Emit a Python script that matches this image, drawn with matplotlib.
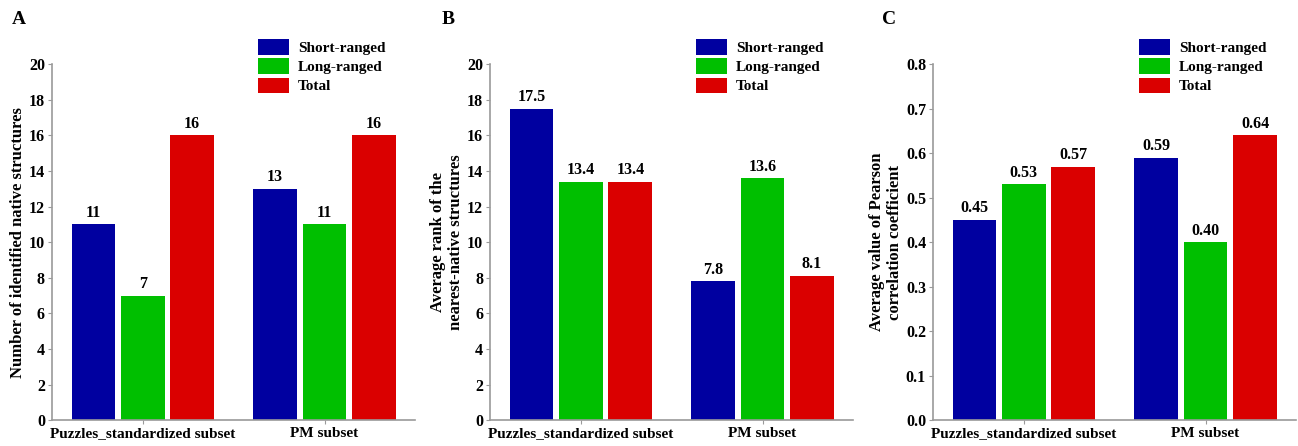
import matplotlib.pyplot as plt
import numpy as np
from matplotlib.patches import Patch

plt.rcParams['font.family'] = ['Liberation Serif', 'DejaVu Serif']
plt.rcParams['font.weight'] = 'bold'

groups = ["Puzzles_standardized subset", "PM subset"]
series = ["Short-ranged", "Long-ranged", "Total"]
colors = ["#0000A0", "#00BF00", "#DA0000"]

# panel A: number of identified native structures
count_short = [11, 13]
count_long = [7, 11]
count_total = [16, 16]

# panel B: average rank of nearest-native structures
rank_short = [17.5, 7.8]
rank_long = [13.4, 13.6]
rank_total = [13.4, 8.1]

# panel C: average Pearson correlation
pearson_short = [0.45, 0.59]
pearson_long = [0.53, 0.40]
pearson_total = [0.57, 0.64]

panels = [
    ("A", [count_short, count_long, count_total], "Number of identified native structures",
     (0, 20), np.arange(0, 21, 2), "{:.0f}", 0.040, 0.009),
    ("B", [rank_short, rank_long, rank_total], "Average rank of the\nnearest-native structures",
     (0, 20), np.arange(0, 21, 2), "{:.1f}", 0.3775, 0.340),
    ("C", [pearson_short, pearson_long, pearson_total], "Average value of Pearson\ncorrelation coefficient",
     (0, 0.8), np.arange(0, 0.81, 0.1), "{:.2f}", 0.7188, 0.6795),
]

fig = plt.figure(figsize=(12.98, 4.46), dpi=100)
x = np.arange(len(groups))
width = 0.24
step = 0.272
spine_col = "#9a9a9a"

for letter, data, ylabel, ylim, yticks, fmt, left, letter_x in panels:
    ax = fig.add_axes([left, 0.058, 0.280, 0.798])
    for i, (vals, col) in enumerate(zip(data, colors)):
        pos = x + (i - 1) * step
        ax.bar(pos, vals, width, color=col)
        for p, v in zip(pos, vals):
            ax.text(p, v + (ylim[1] * 0.01), fmt.format(v), ha="center", va="bottom",
                    fontsize=11.5, fontweight="bold")
    ax.set_xlim(-0.5, 1.5)
    ax.set_ylim(*ylim)
    ax.set_yticks(yticks)
    if letter == "C":
        ax.set_yticklabels(["{:.1f}".format(t) for t in yticks])
    else:
        ax.set_yticklabels(["{:.0f}".format(t) for t in yticks])
    ax.set_xticks(x)
    ax.set_xticklabels(groups, fontsize=11, fontweight="bold")
    ax.tick_params(axis="y", labelsize=11.5, length=3, color=spine_col, pad=2)
    ax.tick_params(axis="x", length=3, color=spine_col, pad=2)
    for s in ["top", "right"]:
        ax.spines[s].set_visible(False)
    for s in ["left", "bottom"]:
        ax.spines[s].set_color(spine_col)
        ax.spines[s].set_linewidth(1.2)
    ax.set_ylabel(ylabel, fontsize=12, fontweight="bold", labelpad=2, linespacing=1.2)
    handles = [Patch(facecolor=c, label=l) for c, l in zip(colors, series)]
    ax.legend(handles=handles, loc="upper right", bbox_to_anchor=(0.934, 1.087),
              frameon=False, fontsize=11, handlelength=2.0, handleheight=1.15,
              labelspacing=0.22, handletextpad=0.6, borderaxespad=0)
    fig.text(letter_x, 0.946, letter, fontsize=14, fontweight="bold", va="baseline")

fig.savefig("out.png", dpi=100)
